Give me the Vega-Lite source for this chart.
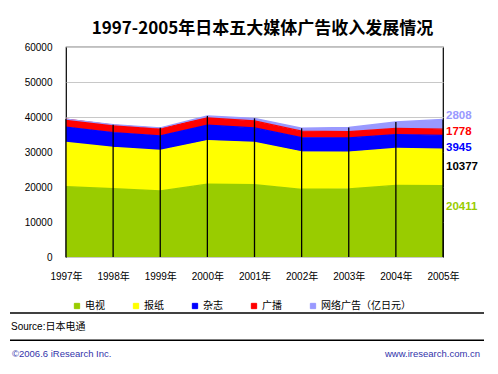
{
  "$schema": "https://vega.github.io/schema/vega-lite/v6.json",
  "background": "white",
  "padding": {"left": 9, "top": 19, "right": 5, "bottom": 5},
  "spacing": 30,
  "config": {
    "font": "Liberation Sans, Noto Sans CJK SC",
    "view": {"stroke": null},
    "axis": {"labelColor": "black", "labelFont": "Liberation Sans, Noto Sans CJK SC", "labelFontSize": 10}
  },
  "datasets": {
    "ad": [
      {"year": 1997, "series": "电视", "value": 20079},
      {"year": 1997, "series": "报纸", "value": 12636},
      {"year": 1997, "series": "杂志", "value": 4395},
      {"year": 1997, "series": "广播", "value": 2247},
      {"year": 1997, "series": "网络广告", "value": 60},
      {"year": 1998, "series": "电视", "value": 19505},
      {"year": 1998, "series": "报纸", "value": 11787},
      {"year": 1998, "series": "杂志", "value": 4258},
      {"year": 1998, "series": "广播", "value": 2153},
      {"year": 1998, "series": "网络广告", "value": 114},
      {"year": 1999, "series": "电视", "value": 18897},
      {"year": 1999, "series": "报纸", "value": 11535},
      {"year": 1999, "series": "杂志", "value": 4183},
      {"year": 1999, "series": "广播", "value": 2043},
      {"year": 1999, "series": "网络广告", "value": 241},
      {"year": 2000, "series": "电视", "value": 20793},
      {"year": 2000, "series": "报纸", "value": 12474},
      {"year": 2000, "series": "杂志", "value": 4369},
      {"year": 2000, "series": "广播", "value": 2071},
      {"year": 2000, "series": "网络广告", "value": 590},
      {"year": 2001, "series": "电视", "value": 20681},
      {"year": 2001, "series": "报纸", "value": 12027},
      {"year": 2001, "series": "杂志", "value": 4180},
      {"year": 2001, "series": "广播", "value": 1998},
      {"year": 2001, "series": "网络广告", "value": 735},
      {"year": 2002, "series": "电视", "value": 19351},
      {"year": 2002, "series": "报纸", "value": 10707},
      {"year": 2002, "series": "杂志", "value": 4051},
      {"year": 2002, "series": "广播", "value": 1837},
      {"year": 2002, "series": "网络广告", "value": 845},
      {"year": 2003, "series": "电视", "value": 19480},
      {"year": 2003, "series": "报纸", "value": 10500},
      {"year": 2003, "series": "杂志", "value": 4035},
      {"year": 2003, "series": "广播", "value": 1807},
      {"year": 2003, "series": "网络广告", "value": 1183},
      {"year": 2004, "series": "电视", "value": 20436},
      {"year": 2004, "series": "报纸", "value": 10559},
      {"year": 2004, "series": "杂志", "value": 3970},
      {"year": 2004, "series": "广播", "value": 1795},
      {"year": 2004, "series": "网络广告", "value": 1814},
      {"year": 2005, "series": "电视", "value": 20411},
      {"year": 2005, "series": "报纸", "value": 10377},
      {"year": 2005, "series": "杂志", "value": 3945},
      {"year": 2005, "series": "广播", "value": 1778},
      {"year": 2005, "series": "网络广告", "value": 2808}
    ],
    "footer": [
      {"part": "line1"},
      {"part": "line2"},
      {"part": "source", "side": "left", "text": "Source:日本电通"},
      {"part": "credit", "side": "left", "text": "©2006.6 iResearch Inc."},
      {"part": "credit", "side": "right", "text": "www.iresearch.com.cn"}
    ]
  },
  "vconcat": [
    {
      "spacing": 0,
      "hconcat": [
        {
          "width": 1,
          "height": 210,
          "data": {"values": [{"blank": 0}]},
          "mark": {"type": "rule", "opacity": 0},
          "encoding": {}
        },
        {
          "title": {
            "text": "1997-2005年日本五大媒体广告收入发展情况",
            "font": "Noto Sans CJK SC",
            "fontSize": 17,
            "fontWeight": "bold",
            "color": "black",
            "frame": "group",
            "anchor": "middle",
            "dx": 8,
            "offset": 4
          },
          "width": 377,
          "height": 210,
          "view": {"stroke": "black", "strokeWidth": 1.2},
          "data": {"name": "ad"},
          "transform": [
            {"calculate": "indexof(['电视','报纸','杂志','广播','网络广告'], datum.series)", "as": "idx"}
          ],
          "encoding": {
            "x": {
              "field": "year",
              "type": "quantitative",
              "scale": {"domain": [1997, 2005], "nice": false, "zero": false},
              "axis": {
                "values": [1997, 1998, 1999, 2000, 2001, 2002, 2003, 2004, 2005],
                "labelExpr": "datum.value + '年'",
                "tickSize": 0,
                "domain": false,
                "grid": false,
                "labelPadding": 14,
                "labelFlush": false,
                "title": null
              }
            }
          },
          "layer": [
            {
              "mark": {"type": "area", "opacity": 1, "line": {"color": "black", "strokeWidth": 1.3}},
              "encoding": {
                "y": {
                  "field": "value",
                  "type": "quantitative",
                  "stack": "zero",
                  "scale": {"domain": [0, 60000], "nice": false},
                  "axis": {"values": [0, 10000, 20000, 30000, 40000, 50000, 60000], "format": "d", "labelOverlap": false, "tickSize": 0, "domain": false, "labelPadding": 14, "minExtent": 54, "grid": true, "gridColor": "#c8c8c8", "gridWidth": 1, "title": null}
                },
                "color": {
                  "field": "series",
                  "type": "nominal",
                  "scale": {
                    "domain": ["电视", "报纸", "杂志", "广播", "网络广告"],
                    "range": ["#99cc00", "#ffff00", "#0000ff", "#ff0000", "#9999ff"]
                  },
                  "legend": {
                    "orient": "none",
                    "legendX": 62,
                    "legendY": 254,
                    "direction": "horizontal",
                    "columns": 5,
                    "title": null,
                    "symbolType": "square",
                    "symbolSize": 28,
                    "symbolStrokeColor": "#333333",
                    "symbolStrokeWidth": 1,
                    "symbolOpacity": 1,
                    "labelFont": "Noto Sans CJK SC",
                    "labelFontSize": 10,
                    "labelColor": "black",
                    "labelOffset": 3,
                    "columnPadding": 26,
                    "labelExpr": "datum.label === '网络广告' ? '网络广告（亿日元）' : datum.label"
                  }
                },
                "order": {"field": "idx", "type": "quantitative"}
              }
            },
            {
              "transform": [
                {"aggregate": [{"op": "sum", "field": "value", "as": "total"}], "groupby": ["year"]}
              ],
              "mark": {"type": "rule", "color": "black", "strokeWidth": 1.3},
              "encoding": {
                "y": {"field": "total", "type": "quantitative", "axis": {"values": [0, 10000, 20000, 30000, 40000, 50000, 60000], "format": "d", "labelOverlap": false, "tickSize": 0, "domain": false, "labelPadding": 14, "minExtent": 54, "grid": true, "gridColor": "#c8c8c8", "gridWidth": 1, "title": null}},
                "y2": {"datum": 0}
              }
            },
            {
              "transform": [
                {"filter": "datum.year === 2005"},
                {"stack": "value", "groupby": ["year"], "sort": [{"field": "idx", "order": "ascending"}], "as": ["lo", "hi"]},
                {"calculate": "(datum.lo + datum.hi) / 2", "as": "mid"},
                {"filter": "datum.series === '广播' || datum.series === '报纸'"}
              ],
              "mark": {"type": "text", "align": "left", "baseline": "middle", "dx": 3, "font": "Liberation Sans", "fontWeight": "bold", "fontSize": 11.5},
              "encoding": {
                "y": {"field": "mid", "type": "quantitative", "axis": {"values": [0, 10000, 20000, 30000, 40000, 50000, 60000], "format": "d", "labelOverlap": false, "tickSize": 0, "domain": false, "labelPadding": 14, "minExtent": 54, "grid": true, "gridColor": "#c8c8c8", "gridWidth": 1, "title": null}},
                "text": {"field": "value", "type": "quantitative", "format": "d"},
                "color": {
                  "condition": {"test": "datum.series === '报纸'", "value": "black"},
                  "field": "series",
                  "type": "nominal"
                }
              }
            },
            {
              "transform": [
                {"filter": "datum.year === 2005"},
                {"stack": "value", "groupby": ["year"], "sort": [{"field": "idx", "order": "ascending"}], "as": ["lo", "hi"]},
                {"calculate": "(datum.lo + datum.hi) / 2", "as": "mid"},
                {"filter": "datum.series === '网络广告'"}
              ],
              "mark": {"type": "text", "align": "left", "baseline": "middle", "dx": 3, "dy": -8, "font": "Liberation Sans", "fontWeight": "bold", "fontSize": 11.5},
              "encoding": {
                "y": {"field": "mid", "type": "quantitative", "axis": {"values": [0, 10000, 20000, 30000, 40000, 50000, 60000], "format": "d", "labelOverlap": false, "tickSize": 0, "domain": false, "labelPadding": 14, "minExtent": 54, "grid": true, "gridColor": "#c8c8c8", "gridWidth": 1, "title": null}},
                "text": {"field": "value", "type": "quantitative", "format": "d"},
                "color": {"field": "series", "type": "nominal"}
              }
            },
            {
              "transform": [
                {"filter": "datum.year === 2005"},
                {"stack": "value", "groupby": ["year"], "sort": [{"field": "idx", "order": "ascending"}], "as": ["lo", "hi"]},
                {"calculate": "(datum.lo + datum.hi) / 2", "as": "mid"},
                {"filter": "datum.series === '杂志'"}
              ],
              "mark": {"type": "text", "align": "left", "baseline": "middle", "dx": 3, "dy": 6, "font": "Liberation Sans", "fontWeight": "bold", "fontSize": 11.5},
              "encoding": {
                "y": {"field": "mid", "type": "quantitative", "axis": {"values": [0, 10000, 20000, 30000, 40000, 50000, 60000], "format": "d", "labelOverlap": false, "tickSize": 0, "domain": false, "labelPadding": 14, "minExtent": 54, "grid": true, "gridColor": "#c8c8c8", "gridWidth": 1, "title": null}},
                "text": {"field": "value", "type": "quantitative", "format": "d"},
                "color": {"field": "series", "type": "nominal"}
              }
            },
            {
              "transform": [
                {"filter": "datum.year === 2005"},
                {"stack": "value", "groupby": ["year"], "sort": [{"field": "idx", "order": "ascending"}], "as": ["lo", "hi"]},
                {"calculate": "(datum.lo + datum.hi) / 2", "as": "mid"},
                {"filter": "datum.series === '电视'"}
              ],
              "mark": {"type": "text", "align": "left", "baseline": "middle", "dx": 3, "dy": -14, "font": "Liberation Sans", "fontWeight": "bold", "fontSize": 11.5},
              "encoding": {
                "y": {"field": "mid", "type": "quantitative", "axis": {"values": [0, 10000, 20000, 30000, 40000, 50000, 60000], "format": "d", "labelOverlap": false, "tickSize": 0, "domain": false, "labelPadding": 14, "minExtent": 54, "grid": true, "gridColor": "#c8c8c8", "gridWidth": 1, "title": null}},
                "text": {"field": "value", "type": "quantitative", "format": "d"},
                "color": {"field": "series", "type": "nominal"}
              }
            }
          ]
        }
      ]
    },
    {
      "width": 474,
      "height": 41,
      "data": {"name": "footer"},
      "encoding": {
        "y": {
          "field": "part",
          "type": "nominal",
          "scale": {"type": "point", "domain": ["line1", "source", "line2", "credit"], "padding": 0},
          "axis": null
        }
      },
      "layer": [
        {
          "transform": [{"filter": "datum.part === 'line1' || datum.part === 'line2'"}],
          "mark": {"type": "rule", "color": "black", "strokeWidth": 1.5}
        },
        {
          "transform": [{"filter": "datum.part === 'source'"}],
          "mark": {"type": "text", "align": "left", "baseline": "middle", "dx": 1, "fontSize": 10, "color": "black"},
          "encoding": {
            "x": {"field": "side", "type": "nominal", "scale": {"type": "point", "domain": ["left", "right"], "padding": 0}, "axis": null},
            "text": {"field": "text"}
          }
        },
        {
          "transform": [{"filter": "datum.part === 'credit' && datum.side === 'left'"}],
          "mark": {"type": "text", "align": "left", "baseline": "middle", "dx": 2, "fontSize": 9.5, "color": "#3333aa"},
          "encoding": {
            "x": {"field": "side", "type": "nominal", "scale": {"type": "point", "domain": ["left", "right"], "padding": 0}, "axis": null},
            "text": {"field": "text"}
          }
        },
        {
          "transform": [{"filter": "datum.part === 'credit' && datum.side === 'right'"}],
          "mark": {"type": "text", "align": "right", "baseline": "middle", "dx": -4, "fontSize": 9.5, "color": "#3333aa"},
          "encoding": {
            "x": {"field": "side", "type": "nominal", "scale": {"type": "point", "domain": ["left", "right"], "padding": 0}, "axis": null},
            "text": {"field": "text"}
          }
        }
      ]
    }
  ]
}
